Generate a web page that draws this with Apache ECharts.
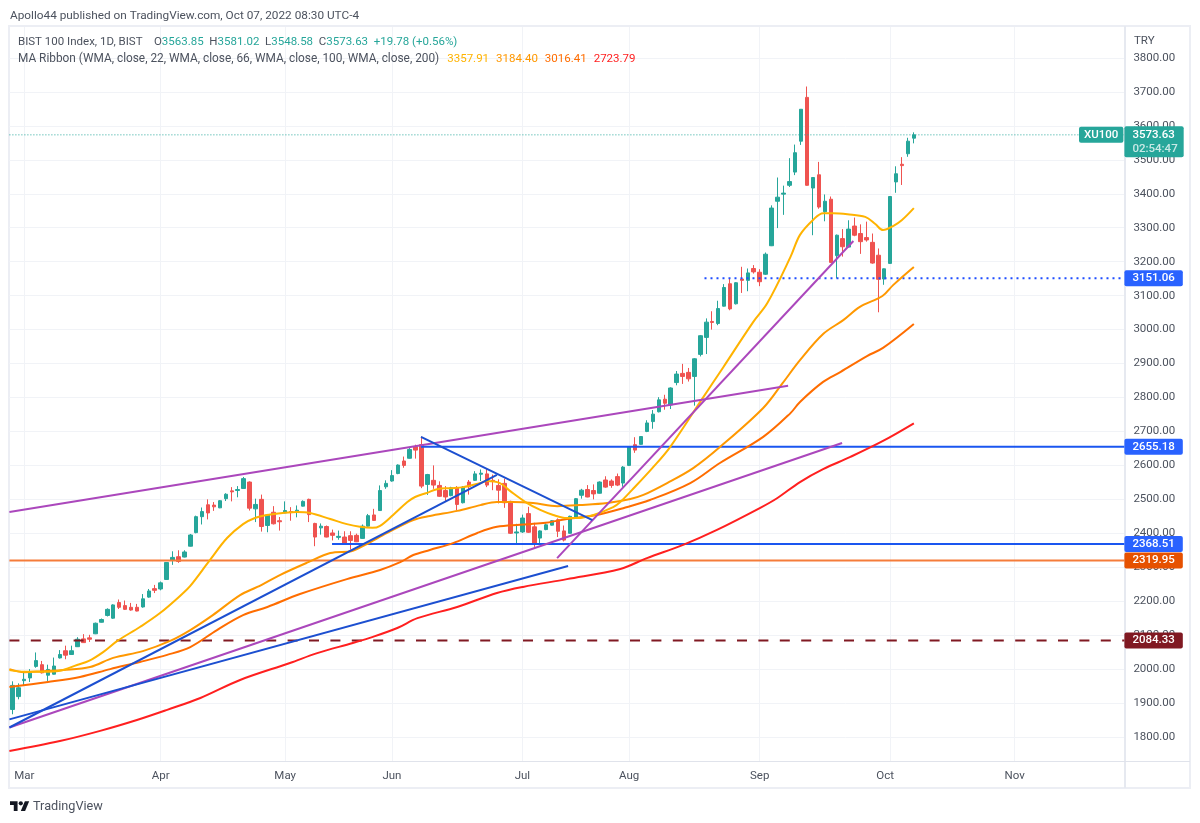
<!DOCTYPE html>
<html>
<head>
<meta charset="utf-8">
<title>BIST 100 Index</title>
<script src="https://cdn.jsdelivr.net/npm/echarts@6/dist/echarts.min.js"></script>
<style>
  html, body { margin: 0; padding: 0; background: #fff; }
  #chart { width: 1200px; height: 823px; }
</style>
</head>
<body>
<div id="chart"></div>
<script>
// Daily OHLC of the BIST 100 index, one entry per session starting 25 Feb 2022.
const opens = [
  1881,1919,1966,1974,2008,2013,1982,1985,2033,2054,
  2043,2066,2089,2092,2104,2138,2158,2150,2196,2187,
  2182,2182,2183,2212,2237,2236,2264,2320,2331,2330,
  2362,2402,2449,2484,2483,2475,2502,2525,2526,2532,
  2551,2472,2500,2423,2462,2437,2460,2464,2464,2480,
  2500,2429,2416,2420,2401,2388,2389,2393,2394,2385,
  2421,2454,2467,2537,2554,2576,2613,2621,2655,2661,
  2544,2556,2541,2526,2511,2535,2490,2551,2556,2574,
  2575,2556,2541,2547,2494,2401,2404,2458,2419,2386,
  2411,2424,2440,2407,2400,2445,2512,2529,2526,2518,
  2557,2554,2567,2548,2600,2661,2662,2700,2729,2758,
  2795,2778,2844,2871,2874,2862,2927,2977,3024,3018,
  3069,3135,3076,3149,3145,3180,3169,3163,3247,3378,
  3399,3425,3464,3555,3684,3417,3456,3347,3384,3218,
  3268,3243,3305,3283,3271,3257,3219,3149,3195,3435,
  3487,3518,3563.85
];
const closes = [
  1952,1945,1970,1988,2025,1989,1999,2009,2043,2041,
  2054,2088,2078,2088,2135,2146,2176,2189,2182,2176,
  2174,2171,2207,2230,2232,2254,2314,2329,2317,2345,
  2395,2449,2464,2460,2478,2496,2515,2522,2529,2561,
  2474,2485,2420,2454,2428,2434,2467,2461,2468,2494,
  2455,2389,2421,2389,2394,2391,2371,2379,2375,2421,
  2452,2438,2526,2547,2570,2601,2600,2647,2645,2539,
  2573,2542,2509,2507,2534,2485,2536,2537,2575,2577,
  2542,2553,2527,2490,2400,2404,2445,2403,2368,2407,
  2425,2437,2406,2380,2450,2502,2527,2507,2516,2551,
  2536,2541,2542,2595,2655,2645,2685,2725,2751,2793,
  2783,2828,2869,2862,2855,2914,2982,3022,3021,3062,
  3124,3061,3138,3145,3167,3170,3141,3222,3358,3390,
  3402,3436,3521,3649,3425,3448,3361,3378,3198,3278,
  3244,3296,3278,3259,3264,3196,3148,3179,3392,3459,
  3483,3555,3573.63
];
const highs = [
  1964,1958,1994,2000,2049,2024,2013,2034,2056,2069,
  2069,2094,2103,2101,2137,2149,2179,2191,2205,2202,
  2195,2192,2221,2236,2248,2258,2315,2347,2350,2350,
  2398,2452,2476,2500,2492,2498,2518,2536,2539,2566,
  2553,2502,2514,2457,2480,2448,2494,2477,2482,2497,
  2502,2431,2429,2423,2411,2408,2406,2406,2399,2426,
  2457,2472,2541,2556,2586,2603,2626,2651,2661,2685,
  2575,2600,2553,2539,2537,2539,2539,2557,2583,2588,
  2590,2573,2559,2561,2496,2428,2455,2478,2431,2409,
  2429,2439,2444,2423,2452,2504,2531,2542,2544,2553,
  2568,2559,2576,2598,2657,2683,2686,2733,2763,2801,
  2808,2830,2878,2899,2887,2916,2984,3033,3054,3085,
  3134,3152,3140,3185,3180,3190,3178,3227,3366,3448,
  3424,3505,3545,3649,3716,3449,3494,3398,3392,3280,
  3296,3322,3330,3310,3318,3283,3239,3180,3393,3481,
  3508,3565,3581.02
];
const lows = [
  1867,1911,1950,1962,2004,1987,1965,1984,2031,2029,
  2042,2065,2077,2080,2103,2137,2155,2148,2177,2174,
  2172,2170,2181,2210,2224,2232,2263,2307,2313,2329,
  2361,2400,2426,2441,2466,2474,2495,2494,2506,2531,
  2467,2433,2405,2403,2426,2408,2459,2437,2447,2479,
  2433,2362,2396,2388,2379,2381,2370,2352,2374,2384,
  2419,2437,2466,2531,2552,2574,2593,2620,2620,2533,
  2513,2531,2507,2493,2509,2468,2488,2514,2554,2554,
  2536,2527,2488,2475,2398,2369,2401,2401,2360,2370,
  2409,2423,2389,2376,2399,2444,2502,2506,2500,2517,
  2534,2534,2539,2537,2598,2637,2661,2698,2708,2756,
  2764,2766,2836,2840,2847,2776,2921,2928,3000,3013,
  3068,3057,3074,3108,3113,3165,3128,3161,3246,3299,
  3338,3420,3455,3544,3424,3278,3356,3319,3197,3151,
  3215,3242,3275,3223,3259,3194,3051,3132,3194,3403,
  3426,3509,3548.58
];

// Moving averages as [session index, price] pairs.
const wma22 = [
  [-0.5,1997],[2,1992],[5.2,1992],[8,1995],[10.9,2012],[12.9,2024],[15.3,2050],[17.7,2083],
  [21.5,2124],[24.9,2165],[28.8,2224],[30,2245],[33.3,2321],[36.2,2386],[38.9,2427],[40.9,2445],
  [43,2454],[45.6,2460],[48,2463],[50.2,2460],[53.6,2442],[56.4,2427],[58.6,2419],[60.7,2416],
  [62,2422],[64.2,2454],[66.6,2492],[67.9,2507],[69.9,2519],[71.6,2530],[73.8,2533],[76,2536],
  [78.9,2548],[80,2554],[82.2,2548],[83.9,2525],[86.8,2489],[89,2469],[91.2,2454],[93.5,2445],
  [95.2,2445],[98,2454],[101.3,2477],[102.5,2492],[104.5,2528],[107.9,2592],[110.9,2654],
  [116.5,2801],[119.9,2890],[124.9,3022],[127.3,3078],[131.2,3214],[132.8,3279],[135,3323],
  [136.7,3343],[138.4,3343],[140.8,3340],[143.8,3332],[145.5,3311],[146.8,3293],[148.5,3305],
  [150,3323],[152,3357.91]
];
const wma66 = [
  [-0.5,2000],[2,1991],[5.2,1994],[8.6,1997],[13.1,2006],[17,2033],[22,2053],[26.6,2083],
  [30,2115],[33.8,2159],[38.4,2218],[41.3,2242],[45.1,2277],[49.9,2315],[53.6,2342],[57.3,2348],
  [59.5,2366],[63.2,2401],[67.6,2439],[70.4,2451],[75,2466],[78.9,2483],[81.7,2492],[84.4,2492],
  [87.8,2489],[91.9,2480],[95.7,2483],[100.3,2489],[104.2,2501],[106.4,2513],[110.4,2548],
  [114.8,2592],[119.3,2654],[126.6,2769],[129.9,2843],[132.8,2910],[136.7,2987],[140.1,3028],
  [142.9,3067],[146.7,3099],[148.5,3131],[152,3184.40]
];
const wma100 = [
  [-0.5,1947],[6,1962],[11.4,1977],[16.5,2000],[21.5,2021],[26.1,2042],[30,2065],[34.5,2115],
  [38.9,2159],[43,2183],[48.5,2221],[56.4,2265],[62,2292],[65.4,2315],[67.6,2336],[70.4,2351],
  [74.3,2371],[78.4,2401],[81.7,2419],[85.6,2425],[89.5,2430],[93.5,2442],[98.6,2454],[103,2474],
  [107.5,2498],[114.3,2548],[119.3,2607],[126.6,2684],[131.2,2754],[132.8,2787],[136.7,2846],
  [139.6,2875],[144.1,2922],[146.8,2946],[152,3016.41]
];
const wma200 = [
  [-0.5,1759],[8,1788],[14.8,1818],[21,1850],[26.1,1880],[31.7,1915],[38.4,1968],[46.8,2018],
  [51.4,2047],[57.4,2077],[60.8,2095],[64.9,2121],[68.3,2150],[75,2183],[81.7,2224],[86.1,2242],
  [93.5,2265],[102.5,2295],[107,2327],[113.1,2366],[118.8,2410],[126.1,2475],[129,2504],
  [132.8,2551],[136.7,2589],[141.3,2625],[146.8,2672],[152,2723.79]
];

// Hand-drawn trend lines, endpoints as [session index, price].
const channelTop = [[-0.5,2463],[130.8,2834.8]];
const channelBottom = [[-0.5,1828],[139.9,2666]];
const steepSupport = [[91.85,2327],[141.8,3261]];
const blueLower = [[-0.5,1852],[93.7,2303.7]];
const blueRising = [[-0.5,1828],[81.7,2572]];
const blueFalling = [[68.9,2684],[97.8,2439]];

// Price levels and the session each one starts from.
const lastPrice = 3573.63;
const levelDotted = 3151.06;
const levelUpper = 2655.18;
const levelMiddle = 2368.51;
const levelOrange = 2319.95;
const levelDashed = 2084.33;

const priceTicks = [1800,1900,2000,2100,2200,2300,2400,2500,2600,2700,2800,2900,3000,3100,3200,3300,3400,3500,3600,3700,3800];
const monthLabels = ['Mar','Apr','May','Jun','Jul','Aug','Sep','Oct','Nov'];
const monthSessions = [2,25,46,64,86,104,126,148,169];

// Weekday sessions from 25 Feb 2022, without the exchange holidays, leaving room on the right.
const holidays = ['2022-05-02','2022-05-03','2022-05-04','2022-05-19','2022-07-11','2022-07-12','2022-07-15','2022-08-30'];
const sessionCount = 188;
const sessions = [];
for (let t = Date.UTC(2022, 1, 25); sessions.length < sessionCount; t += 86400000) {
  const d = new Date(t);
  const key = d.toISOString().slice(0, 10);
  if (d.getUTCDay() % 6 !== 0 && !holidays.includes(key)) sessions.push(key);
}

const UP = '#26a69a';
const DOWN = '#ef5350';
const FONT = 'Roboto, sans-serif';
const AXIS_TEXT = '#4c525e';
const RIGHT_EDGE = sessionCount - 0.5;
const GRID = { left: 9.4, top: 27, width: 1115, height: 734 };
// Axis bounds that put the 100-point ticks on the price scale's pixel rows.
const PRICE_MIN = 1729.3;
const PRICE_MAX = 3891.3;

function lineSeries(data, color, width, extra) {
  return Object.assign({
    type: 'line',
    xAxisIndex: 1,
    yAxisIndex: 0,
    data,
    symbol: 'none',
    silent: true,
    z: 5,
    lineStyle: { color, width }
  }, extra || {});
}

function levelSeries(start, price, color, tagColor, dash, width) {
  return lineSeries([[start, price], [RIGHT_EDGE, price]], color, width, {
    lineStyle: { color, width, type: dash },
    z: 4,
    endLabel: {
      show: true,
      formatter: () => price.toFixed(2),
      backgroundColor: tagColor,
      color: '#fff',
      fontFamily: FONT,
      fontSize: 11.5,
      fontWeight: 500,
      lineHeight: 12,
      padding: [2, 8, 2, 8],
      borderRadius: 2,
      distance: 0
    }
  });
}

function titleStyle(color, size, pad) {
  return { fontFamily: FONT, fontSize: size || 11.5, fontWeight: 'normal', color, padding: [0, 0, 0, pad || 0] };
}

const chart = echarts.init(document.getElementById('chart'), null, { renderer: 'canvas' });
chart.setOption({
  animation: false,
  backgroundColor: '#fff',
  title: [
    {
      left: 10, top: 10, padding: 0,
      text: 'Apollo44 published on TradingView.com, Oct 07, 2022 08:30 UTC-4',
      textStyle: { fontFamily: FONT, fontSize: 11.8, fontWeight: 'normal', color: '#4c525e' }
    },
    {
      left: 18, top: 36, padding: 0,
      text: '{t|BIST 100 Index, 1D, BIST    O}{v|3563.85}{t|  H}{v|3581.02}{t|  L}{v|3548.58}{t|  C}{v|3573.63}{v|  +19.78 (+0.56%)}',
      textStyle: { rich: { t: titleStyle('#4c525e'), v: titleStyle(UP) } }
    },
    {
      left: 18, top: 50, padding: 0,
      text: '{t|MA Ribbon (WMA, close, 22, WMA, close, 66, WMA, close, 100, WMA, close, 200)} {a|3357.91} {b|3184.40} {c|3016.41} {d|2723.79}',
      textStyle: { rich: {
        t: titleStyle('#4c525e', 11.85),
        a: titleStyle('#ffb300', 11.5, 3),
        b: titleStyle('#ff9800', 11.5, 2),
        c: titleStyle('#ff6d00', 11.5, 2),
        d: titleStyle('#ff1f1f', 11.5, 2)
      } }
    }
  ],
  grid: GRID,
  xAxis: [
    {
      type: 'category',
      data: sessions,
      show: false,
      boundaryGap: true
    },
    {
      type: 'value',
      min: -0.5,
      max: RIGHT_EDGE,
      position: 'bottom',
      axisLine: { show: false },
      axisTick: { show: false, customValues: monthSessions },
      splitLine: { show: true, lineStyle: { color: '#f1f3f7', width: 1 } },
      axisLabel: {
        customValues: monthSessions,
        margin: 9,
        fontFamily: FONT,
        fontSize: 11.5,
        color: AXIS_TEXT,
        formatter: v => {
          const name = monthLabels[monthSessions.indexOf(v)] || '';
          return name === 'Oct' ? '{early|' + name + '}' : name;
        },
        rich: { early: { fontFamily: FONT, fontSize: 11.5, color: AXIS_TEXT, padding: [0, 10, 0, 0] } }
      }
    }
  ],
  yAxis: {
    type: 'value',
    position: 'right',
    min: PRICE_MIN,
    max: PRICE_MAX,
    axisLine: { show: false },
    axisTick: { show: false, customValues: priceTicks },
    splitLine: { show: true, lineStyle: { color: '#f1f3f7', width: 1 } },
    axisLabel: {
      customValues: priceTicks,
      margin: 9,
      fontFamily: FONT,
      fontSize: 11.5,
      color: AXIS_TEXT,
      padding: [3, 0, 0, 0],
      formatter: v => v.toFixed(2)
    }
  },
  series: [
    {
      type: 'candlestick',
      name: 'XU100',
      xAxisIndex: 0,
      yAxisIndex: 0,
      barWidth: 4,
      silent: true,
      z: 3,
      itemStyle: {
        color: UP,
        color0: DOWN,
        borderColor: UP,
        borderColor0: DOWN,
        borderWidth: 1
      },
      data: opens.map((o, i) => [o, closes[i], lows[i], highs[i]])
    },
    lineSeries(wma200, '#ff1f1f', 2, { smooth: 0.35 }),
    lineSeries(wma100, '#ff6d00', 2, { smooth: 0.35 }),
    lineSeries(wma66, '#ff9800', 2, { smooth: 0.35 }),
    lineSeries(wma22, '#ffb300', 2, { smooth: 0.35 }),
    lineSeries(channelTop, '#ab47bc', 2),
    lineSeries(channelBottom, '#ab47bc', 2),
    lineSeries(steepSupport, '#ab47bc', 2),
    lineSeries(blueLower, '#1c4fd0', 2),
    lineSeries(blueRising, '#1c4fd0', 2),
    lineSeries(blueFalling, '#1c4fd0', 2),
    levelSeries(116.7, levelDotted, '#1e4dff', '#2962ff', [2, 4], 2),
    levelSeries(68.9, levelUpper, '#1a56f0', '#2962ff', 'solid', 2),
    levelSeries(53.9, levelMiddle, '#1a56f0', '#2962ff', 'solid', 2),
    levelSeries(-0.5, levelOrange, '#f57c3a', '#e65100', 'solid', 2),
    levelSeries(-0.5, levelDashed, '#801922', '#801922', [10, 11.4], 2),
    lineSeries([[-0.5, lastPrice], [RIGHT_EDGE, lastPrice]], UP, 1, {
      lineStyle: { color: UP, width: 1, type: [1, 2] },
      z: 4,
      endLabel: {
        show: true,
        formatter: '{p|3573.63}\n{t|02:54:47}',
        backgroundColor: UP,
        padding: [2, 6, 1, 8],
        borderRadius: 2,
        distance: 0,
        offset: [0, 7],
        rich: {
          p: { color: '#fff', fontFamily: FONT, fontSize: 11.5, fontWeight: 500, lineHeight: 14 },
          t: { color: 'rgba(255,255,255,0.75)', fontFamily: FONT, fontSize: 11.5, fontWeight: 500, lineHeight: 14 }
        }
      },
      markPoint: {
        symbol: 'rect',
        symbolSize: 0,
        silent: true,
        data: [{ coord: [RIGHT_EDGE, lastPrice] }],
        label: {
          show: true,
          position: 'left',
          distance: 1,
          formatter: 'XU100',
          backgroundColor: UP,
          color: '#fff',
          fontFamily: FONT,
          fontSize: 11.5,
          fontWeight: 500,
          lineHeight: 12,
          padding: [2, 5, 2, 5],
          borderRadius: 2
        }
      }
    })
  ],
  graphic: [
    { type: 'rect', silent: true, z: 0, shape: { x: 9, y: 26, width: 1181, height: 762 },
      style: { fill: 'none', stroke: '#eceef4', lineWidth: 2 } },
    { type: 'line', silent: true, z: 1, shape: { x1: 1125, y1: 26, x2: 1125, y2: 788 },
      style: { stroke: '#e6e9f0', lineWidth: 2 } },
    { type: 'line', silent: true, z: 1, shape: { x1: 10, y1: 761.5, x2: 1190, y2: 761.5 },
      style: { stroke: '#e0e3eb', lineWidth: 1 } },
    { type: 'text', silent: true, z: 6, x: 1134, y: 35,
      style: { text: 'TRY', fontFamily: FONT, fontSize: 11.5, fill: AXIS_TEXT } },
    // TradingView wordmark in the footer
    { type: 'polygon', silent: true, z: 6, x: 10, y: 799, scaleX: 0.54, scaleY: 0.54,
      shape: { points: [[0,4],[14,4],[14,22],[7,22],[7,11],[0,11]] }, style: { fill: '#131722' } },
    { type: 'polygon', silent: true, z: 6, x: 10, y: 799, scaleX: 0.54, scaleY: 0.54,
      shape: { points: [[20,22],[27.5,4],[35.5,4],[28,22]] }, style: { fill: '#131722' } },
    { type: 'circle', silent: true, z: 6, shape: { cx: 20.8, cy: 803.3, r: 2.1 }, style: { fill: '#131722' } },
    { type: 'text', silent: true, z: 6, x: 33, y: 800,
      style: { text: 'TradingView', fontFamily: FONT, fontSize: 12.7, fill: '#4c525e' } }
  ]
});
</script>
</body>
</html>
